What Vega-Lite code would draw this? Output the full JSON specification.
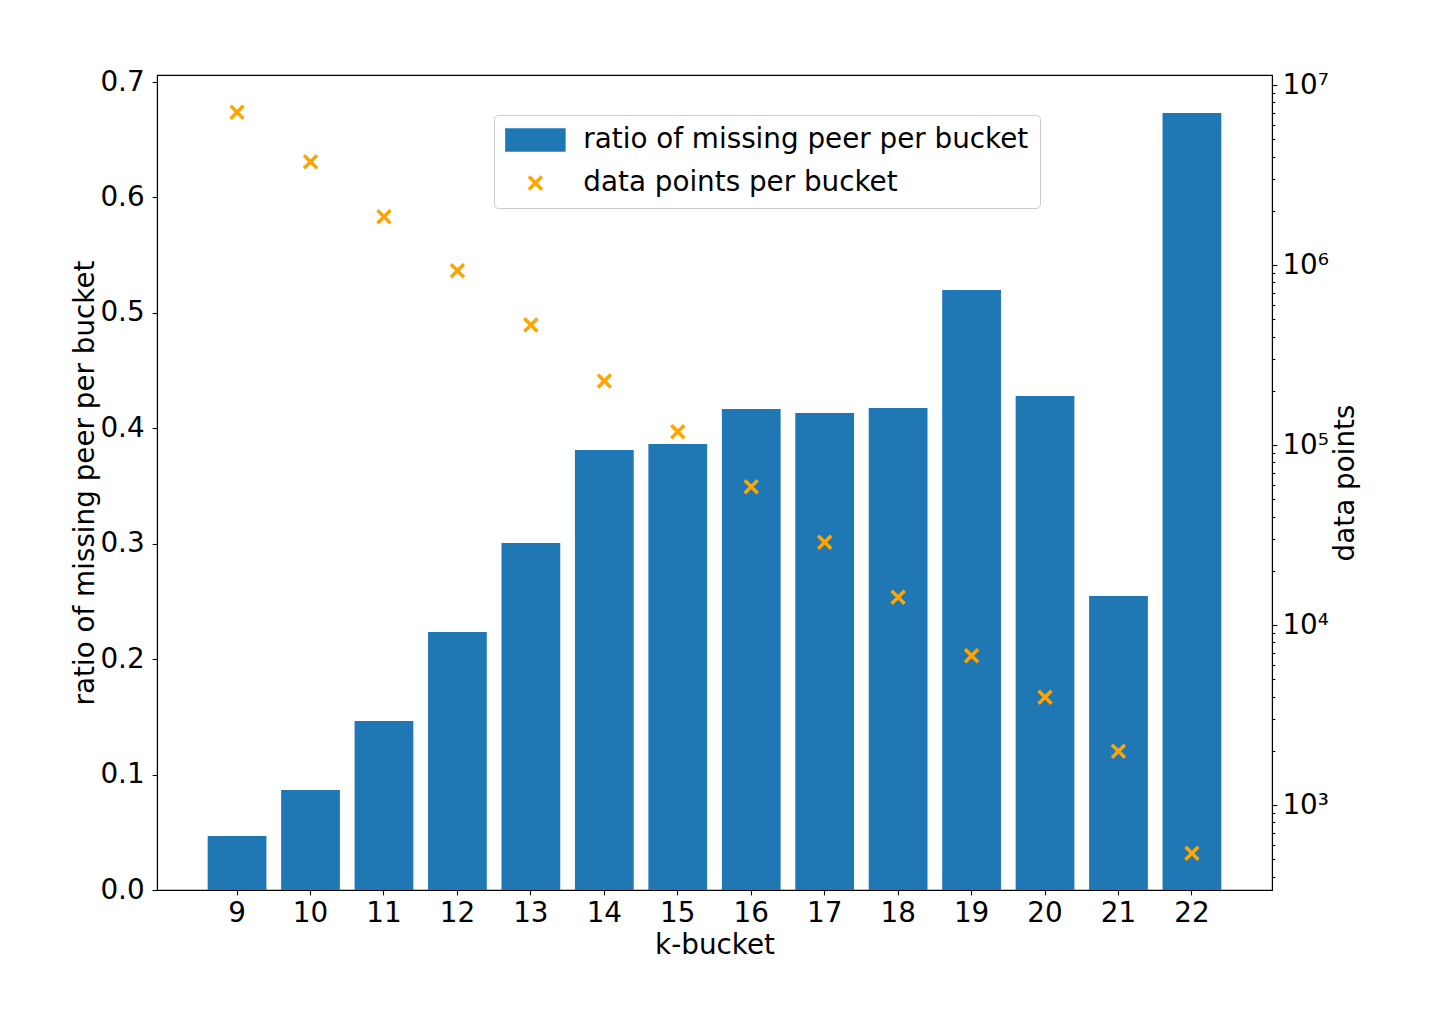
{
  "$schema": "https://vega.github.io/schema/vega-lite/v6.json",
  "width": 1115,
  "height": 815,
  "autosize": {"type": "none"},
  "padding": {"left": 157, "top": 75, "right": 159, "bottom": 139},
  "background": "white",
  "config": {
    "font": "DejaVu Sans",
    "view": {"stroke": "black", "strokeWidth": 1.1},
    "axis": {
      "labelFont": "DejaVu Sans",
      "titleFont": "DejaVu Sans",
      "labelFontSize": 27.8,
      "titleFontSize": 27.8,
      "titleFontWeight": "normal",
      "labelColor": "black",
      "titleColor": "black",
      "tickColor": "black",
      "domainColor": "black",
      "tickSize": 4.9,
      "tickWidth": 1.1,
      "domainWidth": 1.1,
      "grid": false,
      "labelPadding": 5
    }
  },
  "data": {
    "values": [
      {"k": 9, "ratio": 0.0468, "points": 7050000},
      {"k": 10, "ratio": 0.0866, "points": 3750000},
      {"k": 11, "ratio": 0.1464, "points": 1855000},
      {"k": 12, "ratio": 0.2235, "points": 930000},
      {"k": 13, "ratio": 0.3006, "points": 464000},
      {"k": 14, "ratio": 0.3812, "points": 227000},
      {"k": 15, "ratio": 0.3864, "points": 118600},
      {"k": 16, "ratio": 0.4167, "points": 58700},
      {"k": 17, "ratio": 0.4132, "points": 28800},
      {"k": 18, "ratio": 0.4176, "points": 14250},
      {"k": 19, "ratio": 0.5198, "points": 6750},
      {"k": 20, "ratio": 0.428, "points": 3970},
      {"k": 21, "ratio": 0.2547, "points": 1990},
      {"k": 22, "ratio": 0.6731, "points": 539}
    ]
  },
  "layer": [
    {
      "mark": {"type": "bar"},
      "encoding": {
        "x": {
          "field": "k",
          "type": "ordinal",
          "scale": {"paddingInner": 0.2, "paddingOuter": 0.69},
          "axis": {"labelAngle": 0, "title": "k-bucket", "titlePadding": 4}
        },
        "y": {
          "field": "ratio",
          "type": "quantitative",
          "scale": {"domain": [0, 0.7061], "nice": false, "zero": true},
          "axis": {
            "title": "ratio of missing peer per bucket",
            "values": [0, 0.1, 0.2, 0.3, 0.4, 0.5, 0.6, 0.7],
            "format": ".1f",
            "labelPadding": 8,
            "titlePadding": 0
          }
        },
        "color": {
          "datum": "ratio of missing peer per bucket",
          "scale": {
            "domain": ["ratio of missing peer per bucket", "data points per bucket"],
            "range": ["#1f77b4", "#ffa500"]
          },
          "legend": {
            "title": null,
            "orient": "none",
            "legendX": 337,
            "legendY": 40,
            "labelFont": "DejaVu Sans",
            "labelFontSize": 27.8,
            "labelColor": "black",
            "labelLimit": 1000,
            "symbolSize": 400,
            "padding": 11,
            "rowPadding": 11,
            "symbolOffset": 16.5,
            "labelOffset": 34,
            "strokeColor": "#cccccc",
            "fillColor": "rgba(255,255,255,0.8)",
            "cornerRadius": 4,
            "encode": {
              "symbols": {
                "update": {
                  "shape": [
                    {"test": "datum.value === 'ratio of missing peer per bucket'", "value": "M-2.85,-1H2.85V1H-2.85Z"},
                    {"value": "M-0.65,-0.65L0.65,0.65M0.65,-0.65L-0.65,0.65"}
                  ],
                  "fill": [
                    {"test": "datum.value === 'ratio of missing peer per bucket'", "value": "#1f77b4"},
                    {"value": "transparent"}
                  ],
                  "stroke": [
                    {"test": "datum.value === 'ratio of missing peer per bucket'", "value": "transparent"},
                    {"value": "#ffa500"}
                  ],
                  "strokeWidth": {"value": 3.5},
                  "opacity": {"value": 1}
                }
              }
            }
          }
        }
      }
    },
    {
      "mark": {
        "type": "point",
        "shape": "M-1,-1L1,1M1,-1L-1,1",
        "filled": false,
        "strokeWidth": 3.5,
        "size": 169,
        "opacity": 1
      },
      "encoding": {
        "x": {"field": "k", "type": "ordinal"},
        "y": {
          "field": "points",
          "type": "quantitative",
          "scale": {"type": "log", "domain": [337.2, 11370000], "nice": false},
          "axis": {
            "orient": "right",
            "title": "data points",
            "titleAngle": 270,
            "titleBaseline": "top",
            "titlePadding": 3,
            "labelOverlap": false,
            "labelPadding": 5,
            "values": [400, 500, 600, 700, 800, 900, 1000, 2000, 3000, 4000, 5000, 6000, 7000, 8000, 9000, 10000, 20000, 30000, 40000, 50000, 60000, 70000, 80000, 90000, 100000, 200000, 300000, 400000, 500000, 600000, 700000, 800000, 900000, 1000000, 2000000, 3000000, 4000000, 5000000, 6000000, 7000000, 8000000, 9000000, 10000000],
            "labelExpr": "datum.value == 1000 ? '10³' : datum.value == 10000 ? '10⁴' : datum.value == 100000 ? '10⁵' : datum.value == 1000000 ? '10⁶' : datum.value == 10000000 ? '10⁷' : ''",
            "tickSize": {
              "condition": {"test": "indexof([1000, 10000, 100000, 1000000, 10000000], datum.value) >= 0", "value": 4.9},
              "value": 2.8
            }
          }
        },
        "color": {"datum": "data points per bucket"}
      }
    }
  ],
  "resolve": {"scale": {"y": "independent"}}
}
